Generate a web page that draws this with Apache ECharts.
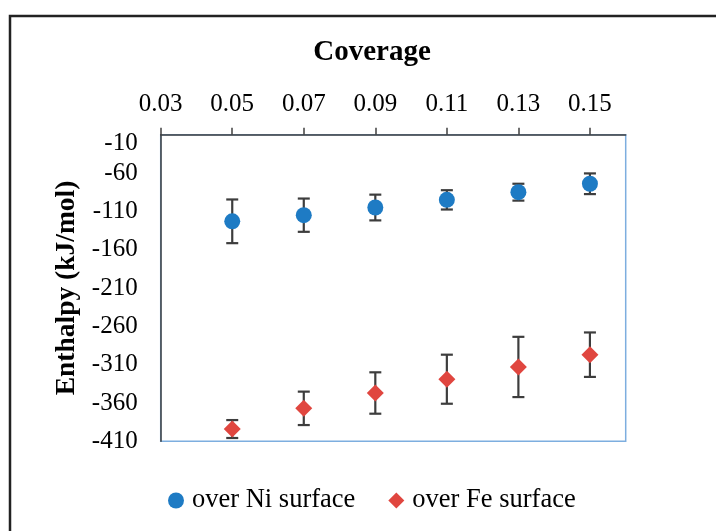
<!DOCTYPE html>
<html>
<head>
<meta charset="utf-8">
<script src="https://cdn.jsdelivr.net/npm/echarts@6/dist/echarts.min.js"></script>
<style>html,body{margin:0;padding:0;background:#fff}#c{width:716px;height:531px}</style>
</head>
<body>
<div id="c"></div>
<script>
var coverage = [0.05, 0.07, 0.09, 0.11, 0.13, 0.15];
var niValues = [-123, -115, -105, -95, -85, -74];
var niErrors = [28.5, 21.7, 16.8, 12.6, 11, 13.5];
var feValues = [-394, -367, -347, -329, -313, -297];
var feErrors = [11.7, 21.8, 27, 32, 39.3, 29];
var xTicks = [0.03, 0.05, 0.07, 0.09, 0.11, 0.13, 0.15];
var yTicks = [-410, -360, -310, -260, -210, -160, -110, -60, -10];
var seriesNames = ['over Ni surface', 'over Fe surface'];

var FONT = '"Liberation Serif", "Times New Roman", serif';

function pts(vals) { return coverage.map(function (c, i) { return [c, vals[i]]; }); }
function errs(vals, e) { return coverage.map(function (c, i) { return [c, vals[i] - e[i], vals[i] + e[i]]; }); }

function errRender(params, api) {
  var x = api.value(0), lo = api.value(1), hi = api.value(2);
  var pTop = api.coord([x, hi]), pBot = api.coord([x, lo]);
  var w = 6;
  var st = { stroke: '#3d3d3d', lineWidth: 2.2 };
  return { type: 'group', children: [
    { type: 'line', shape: { x1: pTop[0], y1: pTop[1], x2: pBot[0], y2: pBot[1] }, style: st },
    { type: 'line', shape: { x1: pTop[0] - w, y1: pTop[1], x2: pTop[0] + w, y2: pTop[1] }, style: st },
    { type: 'line', shape: { x1: pBot[0] - w, y1: pBot[1], x2: pBot[0] + w, y2: pBot[1] }, style: st }
  ]};
}

var chart = echarts.init(document.getElementById('c'), null, { renderer: 'canvas' });
chart.setOption({
  animation: false,
  backgroundColor: '#fff',
  grid: { left: 160.7, right: 90.3, top: 134.7, bottom: 89.7, show: true, borderColor: '#7DAEDF', borderWidth: 1.5, backgroundColor: 'transparent' },
  graphic: [
    { type: 'rect', shape: { x: 10, y: 16, width: 730, height: 540 }, style: { fill: null, stroke: '#222', lineWidth: 2.5 }, z: 100 },
    { type: 'text', x: 372, y: 53, style: { text: 'Coverage', font: 'bold 29px ' + FONT, fill: '#000', align: 'center', verticalAlign: 'middle' } }
  ],
  legend: {
    data: [{ name: seriesNames[0], icon: 'circle' }, { name: seriesNames[1], icon: 'diamond' }],
    top: 482, left: 163, itemWidth: 16, itemHeight: 16, itemGap: 33,
    textStyle: { fontFamily: FONT, fontSize: 26.5, color: '#000', padding: [0, 0, 0, 3] }
  },
  xAxis: {
    type: 'value', position: 'top', min: 0.03, max: 0.16,
    splitLine: { show: false },
    axisLine: { show: true, onZero: false, lineStyle: { color: '#404040', width: 1.5 } },
    axisTick: { show: true, inside: false, length: 7, customValues: xTicks, lineStyle: { color: '#404040', width: 1.5 } },
    axisLabel: { customValues: xTicks, margin: 18, fontFamily: FONT, fontSize: 25, color: '#000', formatter: function (v) { return v.toFixed(2); } }
  },
  yAxis: {
    type: 'value', min: -410, max: -10,
    name: 'Enthalpy (kJ/mol)', nameLocation: 'middle', nameGap: 77, nameRotate: 90,
    nameTextStyle: { fontFamily: FONT, fontSize: 27.5, fontWeight: 'bold', color: '#000' },
    splitLine: { show: false },
    axisLine: { show: true, onZero: false, lineStyle: { color: '#404040', width: 1.5 } },
    axisTick: { show: false, customValues: yTicks },
    axisLabel: {
      customValues: yTicks, margin: 23, fontFamily: FONT, fontSize: 25, color: '#000',
      formatter: function (v) { return v === -10 ? '{t|' + v + '}' : String(v); },
      rich: { t: { fontFamily: FONT, fontSize: 25, color: '#000', padding: [18, 0, 0, 0] } }
    }
  },
  series: [
    { type: 'custom', name: 'niErr', renderItem: errRender, data: errs(niValues, niErrors), encode: { x: 0, y: [1, 2] }, z: 2, silent: true },
    { type: 'custom', name: 'feErr', renderItem: errRender, data: errs(feValues, feErrors), encode: { x: 0, y: [1, 2] }, z: 2, silent: true },
    { type: 'scatter', name: seriesNames[0], data: pts(niValues), symbol: 'circle', symbolSize: 16, itemStyle: { color: '#1E7BC4', opacity: 1 }, z: 5 },
    { type: 'scatter', name: seriesNames[1], data: pts(feValues), symbol: 'diamond', symbolSize: 17, itemStyle: { color: '#E0463F', opacity: 1 }, z: 5 }
  ]
});
</script>
</body>
</html>
